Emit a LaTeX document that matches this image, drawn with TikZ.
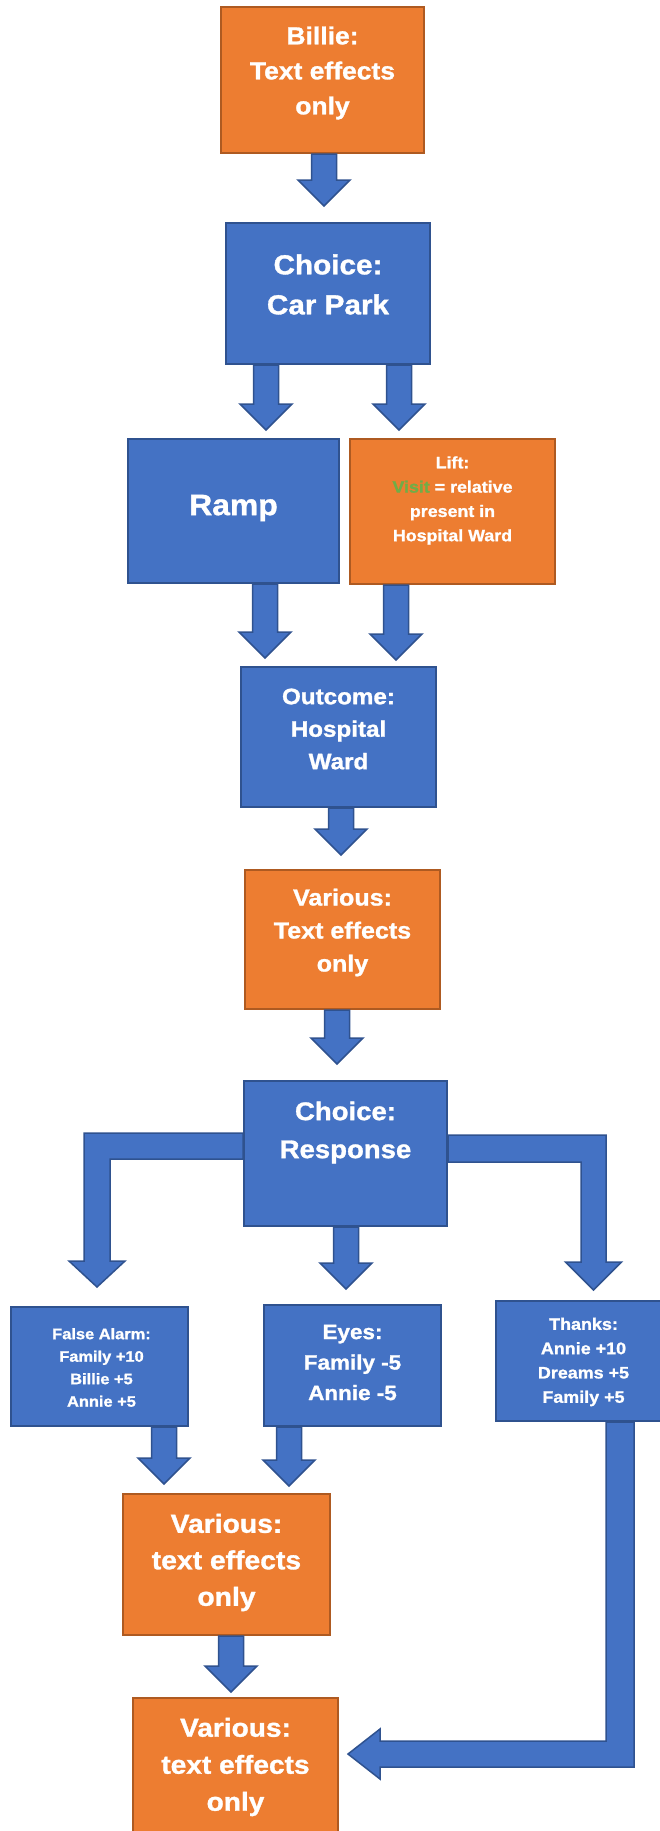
\documentclass[tikz,border=0pt]{standalone}
\usepackage{fontspec}
\newfontfamily\boxfont{Liberation Sans}[FakeStretch=1.08, FakeBold=1.2]
\usetikzlibrary{calc}

\definecolor{boxblue}{HTML}{4472C4}
\definecolor{blueedge}{HTML}{2F528F}
\definecolor{boxorange}{HTML}{ED7D31}
\definecolor{orangeedge}{HTML}{AE5A21}
\definecolor{visitgreen}{HTML}{70AD47}

\tikzset{
  bluebox/.style={draw=blueedge, fill=boxblue, line width=2pt, inner sep=0pt},
  orangebox/.style={draw=orangeedge, fill=boxorange, line width=2pt, inner sep=0pt},
  boxtext/.style={text=white, align=center, inner sep=0pt},
  barrow/.style={draw=blueedge, fill=boxblue, line width=1.5pt, line join=miter},
}

% font size and baseline skip for box texts
\newcommand\fs[2]{\fontsize{#1}{#2}\selectfont\boxfont\bfseries}

% straight block arrow pointing down: from #1 (top of shaft) to tip #2
\newcommand\downblock[2]{%
  \draw[barrow] ($(#1)+(-12.5,0)$) -- ($(#2)+(-12.5,-26)$) -- ($(#2)+(-26,-26)$)
    -- (#2) -- ($(#2)+(26,-26)$) -- ($(#2)+(12.5,-26)$) -- ($(#1)+(12.5,0)$) -- cycle;}

\begin{document}
\begin{tikzpicture}[x=1pt,y=-1pt]
\useasboundingbox (0,0) rectangle (660,1831);

% ---------- boxes ----------
\node[orangebox, minimum width=203, minimum height=146] (billie)   at (322.5,80)    {};
\node[bluebox,   minimum width=204, minimum height=141] (carpark)  at (328,293.5)   {};
\node[bluebox,   minimum width=211, minimum height=144] (ramp)     at (233.5,511)   {};
\node[orangebox, minimum width=205, minimum height=145] (lift)     at (452.5,511.5) {};
\node[bluebox,   minimum width=195, minimum height=140] (outcome)  at (338.5,737)   {};
\node[orangebox, minimum width=195, minimum height=139] (various1) at (342.5,939.5) {};
\node[bluebox,   minimum width=203, minimum height=145] (resp)     at (345.5,1153.5){};
\node[bluebox,   minimum width=177, minimum height=119] (alarm)    at (99.5,1366.5) {};
\node[bluebox,   minimum width=177, minimum height=121] (eyes)     at (352.5,1365.5){};
\node[bluebox,   minimum width=175, minimum height=120] (thanks)   at (583.5,1361)  {};
\node[orangebox, minimum width=207, minimum height=141] (various2) at (226.5,1564.5){};
\node[orangebox, minimum width=205, minimum height=142] (various3) at (235.5,1769)  {};

% ---------- texts ----------
\node[boxtext, font=\fs{24.5}{35}] (billie-t) at ($(billie.center)+(0,-7)$)
  {Billie:\\Text effects\\only};
\node[boxtext, font=\fs{27.5}{40}] (carpark-t) at ($(carpark.center)+(0,-9)$)
  {Choice:\\Car Park};
\node[boxtext, font=\fs{29.5}{35}] (ramp-t) at ($(ramp.center)+(0,-3)$) {Ramp};
\node[boxtext, font=\fs{16.5}{24.3}] (lift-t) at ($(lift.center)+(0,-11)$)
  {Lift:\\{\color{visitgreen}Visit} = relative\\present in\\Hospital Ward};
\node[boxtext, font=\fs{22.4}{32.5}] (outcome-t) at ($(outcome.center)+(0,-8)$)
  {Outcome:\\Hospital\\Ward};
\node[boxtext, font=\fs{23.2}{33}] (various1-t) at ($(various1.center)+(0,-7)$)
  {Various:\\Text effects\\only};
\node[boxtext, font=\fs{25.5}{38}] (resp-t) at ($(resp.center)+(0,-21)$)
  {Choice:\\Response};
\node[boxtext, font=\fs{15.2}{22.5}] (alarm-t) at ($(alarm.center)+(2,1)$)
  {False Alarm:\\Family +10\\Billie +5\\Annie +5};
\node[boxtext, font=\fs{20.8}{30.5}] (eyes-t) at ($(eyes.center)+(0,-3)$)
  {Eyes:\\Family -5\\Annie -5};
\node[boxtext, font=\fs{16.6}{24.3}] (thanks-t) at ($(thanks.center)+(0,1)$)
  {Thanks:\\Annie +10\\Dreams +5\\Family +5};
\node[boxtext, font=\fs{26.2}{36.5}] (various2-t) at ($(various2.center)+(0,-2)$)
  {Various:\\text effects\\only};
\node[boxtext, font=\fs{26}{37}] (various3-t) at ($(various3.center)+(0,-2)$)
  {Various:\\text effects\\only};

% ---------- arrow tips ----------
\coordinate (t1)  at (324,206);
\coordinate (t2)  at (266,430);
\coordinate (t3)  at (399,430);
\coordinate (t4)  at (265,658);
\coordinate (t5)  at (396,660);
\coordinate (t6)  at (341,855);
\coordinate (t7)  at (337,1064);
\coordinate (t8)  at (346,1289);
\coordinate (t9)  at (164,1484);
\coordinate (t10) at (289,1486);
\coordinate (t11) at (231,1692);
\coordinate (tL)  at (97,1287);
\coordinate (tR)  at (593.5,1290);
\coordinate (tB)  at (348,1754);

% ---------- straight arrows ----------
\downblock{billie.south -| t1}{t1}
\downblock{carpark.south -| t2}{t2}
\downblock{carpark.south -| t3}{t3}
\downblock{ramp.south -| t4}{t4}
\downblock{lift.south -| t5}{t5}
\downblock{outcome.south -| t6}{t6}
\downblock{various1.south -| t7}{t7}
\downblock{resp.south -| t8}{t8}
\downblock{alarm.south -| t9}{t9}
\downblock{eyes.south -| t10}{t10}
\downblock{various2.south -| t11}{t11}

% ---------- bent arrows ----------
\draw[barrow] (resp.west |- 0,1133) -- (84,1133) -- (84,1261) -- (69,1261) -- (tL)
  -- (125,1261) -- (110,1261) -- (110,1159) -- (resp.west |- 0,1159) -- cycle;
\draw[barrow] (resp.east |- 0,1135) -- (606,1135) -- (606,1262) -- (621.5,1262) -- (tR)
  -- (565.5,1262) -- (581,1262) -- (581,1162) -- (resp.east |- 0,1162) -- cycle;
\draw[barrow] (thanks.south -| 606,0) -- (606,1741) -- (380,1741) -- (380,1729) -- (tB)
  -- (380,1779) -- (380,1767) -- (634,1767) -- (thanks.south -| 634,0) -- cycle;
\end{tikzpicture}
\end{document}
